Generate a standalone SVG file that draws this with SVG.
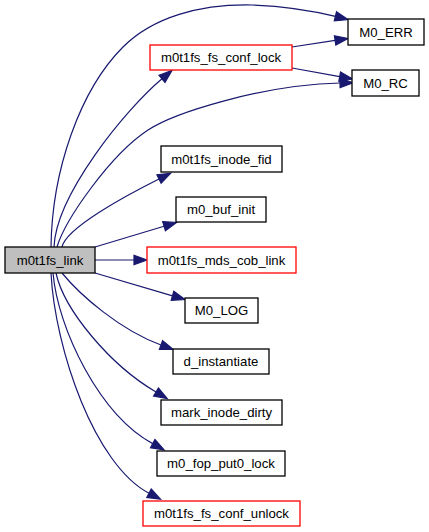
<svg xmlns="http://www.w3.org/2000/svg" width="429" height="532" viewBox="0 0 429 532">
<style>
.n rect{fill:#ffffff;stroke:#000000;stroke-width:1.3}
.n.r rect{stroke:#ff0000}
.n.g rect{fill:#bfbfbf}
.n text{font-family:"Liberation Sans",Arial,sans-serif;font-size:13.2px;fill:#000000;text-anchor:middle}
#edges path{fill:none;stroke:#191970;stroke-width:1.2}
#edges polygon{fill:#191970;stroke:#191970;stroke-width:1.2}
</style>
<rect x="0" y="0" width="429" height="532" fill="#ffffff"/>
<g id="edges">
  <!-- link -> M0_ERR -->
  <path d="M51,247 C52,170 80,90 123,47 C153,17 200,4 252,5 C280,6 311,10.4 335.4,16.4"/>
  <polygon points="336.5,11.8 348,19.5 334.3,20.9"/>
  <!-- link -> conf_lock -->
  <path d="M54,247 C56,195 125,110 162,78.8"/>
  <polygon points="159,75.2 172,70.5 165,82.4"/>
  <!-- link -> M0_RC -->
  <path d="M57,247 C65,220 110,155 148,130 C173,113.5 260,85 340,83"/>
  <polygon points="339.9,78.3 353,82.7 340.1,87.7"/>
  <!-- conf_lock -> M0_ERR -->
  <path d="M292,47 L335.1,40.45"/>
  <polygon points="334.4,35.8 348,38.5 335.8,45.1"/>
  <!-- conf_lock -> M0_RC -->
  <path d="M292,68 L339.7,76.67"/>
  <polygon points="340.54,72.05 352.5,79 338.86,81.3"/>
  <!-- link -> inode_fid -->
  <path d="M62,247 C66,228 125,196 159,179"/>
  <polygon points="156.9,174.8 170.6,173.2 161.1,183.2"/>
  <!-- link -> buf_init -->
  <path d="M95,247 L164.05,226.25"/>
  <polygon points="162.7,221.7 176.5,222.5 165.4,230.8"/>
  <!-- link -> mds_cob_link -->
  <path d="M95,260 L134,260"/>
  <polygon points="134,255.3 147,260 134,264.7"/>
  <!-- link -> M0_LOG -->
  <path d="M95,273 L172.5,295.8"/>
  <polygon points="173.8,291.3 185,299.5 171.2,300.3"/>
  <!-- link -> d_instantiate -->
  <path d="M62,273 C80,295 120,330 161,345"/>
  <polygon points="162.6,340.6 173.2,349.5 159.4,349.4"/>
  <!-- link -> mark_inode_dirty -->
  <path d="M56,273 C64,310 110,365 156,392"/>
  <polygon points="158.4,388 167.2,398.6 153.6,396"/>
  <!-- link -> m0_fop_put0_lock -->
  <path d="M53,273 C58,330 100,415 152.7,443.6"/>
  <polygon points="154.9,439.5 164.1,449.8 150.5,447.7"/>
  <!-- link -> conf_unlock -->
  <path d="M51,273 C55,350 95,465 149,493.2"/>
  <polygon points="151.2,489 160.5,499.2 146.8,497.4"/>
</g>
<g id="m0t1fs_link" class="n g"><rect x="5" y="247" width="90" height="26"/><text x="50" y="264.7">m0t1fs_link</text></g>
<g id="M0_ERR" class="n"><rect x="348" y="19" width="76" height="26"/><text x="386" y="36.7">M0_ERR</text></g>
<g id="m0t1fs_fs_conf_lock" class="n r"><rect x="150" y="45" width="142" height="25"/><text x="221" y="62.2">m0t1fs_fs_conf_lock</text></g>
<g id="M0_RC" class="n"><rect x="352" y="70" width="67" height="26"/><text x="385.5" y="87.7">M0_RC</text></g>
<g id="m0t1fs_inode_fid" class="n"><rect x="161" y="146" width="121" height="26"/><text x="221.5" y="163.7">m0t1fs_inode_fid</text></g>
<g id="m0_buf_init" class="n"><rect x="176" y="197" width="90" height="25"/><text x="221" y="214.2">m0_buf_init</text></g>
<g id="m0t1fs_mds_cob_link" class="n r"><rect x="147" y="247" width="149" height="26"/><text x="221.5" y="264.7">m0t1fs_mds_cob_link</text></g>
<g id="M0_LOG" class="n"><rect x="185" y="298" width="73" height="25"/><text x="221.5" y="315.2">M0_LOG</text></g>
<g id="d_instantiate" class="n"><rect x="173" y="349" width="96" height="25"/><text x="221" y="366.2">d_instantiate</text></g>
<g id="mark_inode_dirty" class="n"><rect x="161" y="400" width="121" height="25"/><text x="221.5" y="417.2">mark_inode_dirty</text></g>
<g id="m0_fop_put0_lock" class="n"><rect x="157" y="451" width="128" height="25"/><text x="221" y="468.2">m0_fop_put0_lock</text></g>
<g id="m0t1fs_fs_conf_unlock" class="n r"><rect x="143" y="501" width="157" height="25"/><text x="221.5" y="518.2">m0t1fs_fs_conf_unlock</text></g>
</svg>
